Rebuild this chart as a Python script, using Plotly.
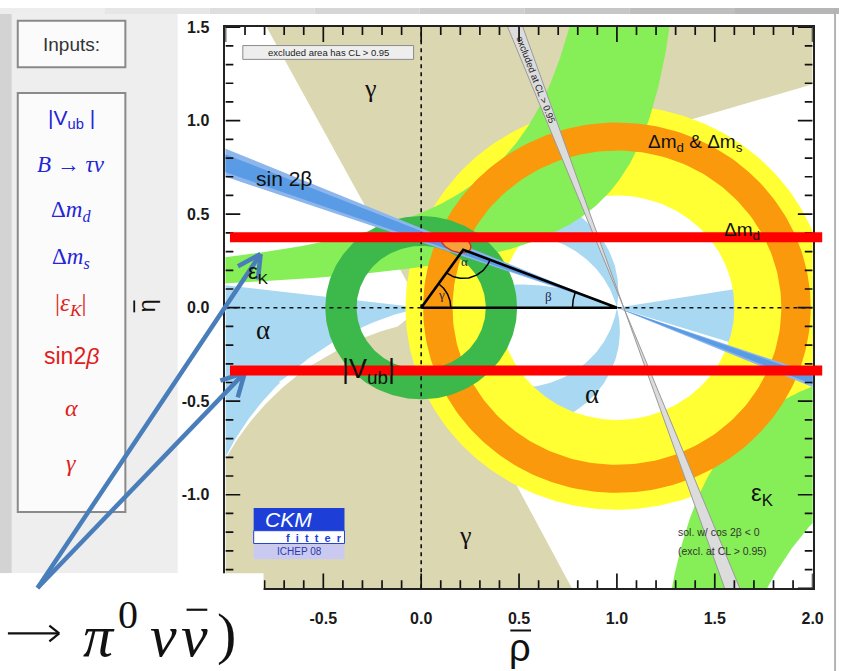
import numpy as np
import plotly.graph_objects as go

W, H = 850, 671

# ---------------- axes ----------------
rho_range = [-1.0, 2.0]
eta_range = [-1.5, 1.5]
x_tick_vals = [-1.0, -0.5, 0.0, 0.5, 1.0, 1.5, 2.0]
x_tick_text = ["", "-0.5", "0.0", "0.5", "1.0", "1.5", "2.0"]      # "-1.0" is hidden on the slide
y_tick_vals = [-1.5, -1.0, -0.5, 0.0, 0.5, 1.0, 1.5]
y_tick_text = ["", "-1.0", "-0.5", "0.0", "0.5", "1.0", "1.5"]     # "-1.5" is hidden on the slide
minor_step = 0.1

# ---------------- constraint regions (rho, eta) ----------------
# gamma (khaki) : upper and lower wedges
gamma_up_rho = [0.0, -0.79, 2.0, 2.0, 1.26]
gamma_up_eta = [0.0, 1.5, 1.5, 1.195, 0.97]
gamma_lo_rho = [0.0, 0.77, -1.0, -1.0]
gamma_lo_eta = [0.0, -1.5, -1.5, -0.81]
gamma_lo_edge_rho = [-1.0, -0.70, -0.12]
gamma_lo_edge_eta = [-0.81, -0.42, -0.10]

# alpha (light blue)
alpha_left_rho = [0.0, -1.0, -1.0]
alpha_left_eta = [0.0, 0.12, -0.80]
alpha_left_edge_rho = [-1.0, -0.71, 0.0]
alpha_left_edge_eta = [-0.80, -0.39, 0.0]
alpha_right_rho = [1.0, 2.0, 2.0]
alpha_right_eta = [0.0, 0.165, -0.32]
alpha_up_bands = [[80.0, 104.0], [152.0, 179.9]]   # inscribed angle ranges, eta > 0
alpha_lo_bands = [[76.0, 99.0]]                    # inscribed angle ranges, eta < 0

# epsilon_K (light green): each edge is eta * (rho0 - rho) = K
epsk_up_edge_rho0 = [1.142, 1.485]
epsk_up_edge_K = [0.578, 0.323]
epsk_lo_rho0 = 1.0
epsk_lo_K = [0.42, 1.15]

# rings
dmd_center = [1.0, 0.0]
dmd_radii = [0.60, 1.08]
dmds_radii = [0.84, 0.99]
vub_center = [0.0, 0.0]
vub_radii = [0.33, 0.49]

# sin 2beta (rays through (1,0)), tan(beta) ranges
sin2b_tan_outer = [0.35, 0.425]
sin2b_tan_inner = [0.362, 0.41]
# cos 2beta < 0 solution (grey band)
cos2b_pivot = 1.035
cos2b_slopes = [-2.91, -2.53]

# unitarity triangle apex and global-fit blob
apex = [0.215, 0.31]
blob_center = [0.178, 0.345]
blob_axes = [0.08, 0.045]

# ---------------- colours ----------------
C_GAMMA = "#dbd7b1"
C_ALPHA = "#a9d9f2"
C_EPSK = "#86ef57"
C_YEL = "#ffff33"
C_ORA = "#fb990c"
C_VUB = "#3db84b"
C_S2B_O = "#8db6ec"
C_S2B_I = "#5a9be6"
C_GREY = "#dcdcdc"

# ---------------- pixel helpers ----------------
PX0, SX = 426.7, 198.3   # rho=0 pixel, pixels per unit
PY0, SY = 303.3, 189.3   # eta=0 pixel, pixels per unit


def xp(px):
    return px / W


def yp(py):
    return 1 - py / H


fig = go.Figure()


def poly(xs, ys, color, line_w=0, line_c=None):
    fig.add_trace(go.Scatter(x=list(xs), y=list(ys), mode="lines", fill="toself",
                             fillcolor=color,
                             line=dict(width=line_w, color=line_c or color),
                             hoverinfo="skip", showlegend=False))


def line(xs, ys, color, width, dash=None):
    fig.add_trace(go.Scatter(x=list(xs), y=list(ys), mode="lines",
                             line=dict(width=width, color=color, dash=dash),
                             hoverinfo="skip", showlegend=False))


def arc3(p1, p2, p3, n=80):
    (x1, y1), (x2, y2), (x3, y3) = p1, p2, p3
    d = 2 * (x1 * (y2 - y3) + x2 * (y3 - y1) + x3 * (y1 - y2))
    ux = ((x1**2 + y1**2) * (y2 - y3) + (x2**2 + y2**2) * (y3 - y1) + (x3**2 + y3**2) * (y1 - y2)) / d
    uy = ((x1**2 + y1**2) * (x3 - x2) + (x2**2 + y2**2) * (x1 - x3) + (x3**2 + y3**2) * (x2 - x1)) / d
    r = np.hypot(x1 - ux, y1 - uy)
    a1 = np.arctan2(y1 - uy, x1 - ux)
    a2 = np.arctan2(y2 - uy, x2 - ux)
    a3 = np.arctan2(y3 - uy, x3 - ux)
    d13 = (a3 - a1) % (2 * np.pi)
    d12 = (a2 - a1) % (2 * np.pi)
    delta = d13 if d12 < d13 else d13 - 2 * np.pi
    a = a1 + np.linspace(0, delta, n)
    return ux + r * np.cos(a), uy + r * np.sin(a)


def alpha_arc(theta_deg, side, n=160):
    t = np.radians(theta_deg)
    cy = 0.5 / np.tan(t)
    r = 0.5 / np.sin(t)
    phib = np.arctan2(-cy, 0.5)
    ph = np.linspace(phib, np.pi - phib, n)
    x = 0.5 + r * np.cos(ph)
    y = cy + r * np.sin(ph)
    if side == "lo":
        y = -y
    return x, y


def ring(c, r1, r2, n=240):
    a = np.linspace(0, 2 * np.pi, n)
    xo = c[0] + r2 * np.cos(a)
    yo = c[1] + r2 * np.sin(a)
    xi = c[0] + r1 * np.cos(a[::-1])
    yi = c[1] + r1 * np.sin(a[::-1])
    return np.concatenate([xo, xi]), np.concatenate([yo, yi])


# ---------------- gamma ----------------
poly(gamma_up_rho, gamma_up_eta, C_GAMMA)
ex, ey = arc3(*zip(gamma_lo_edge_rho, gamma_lo_edge_eta))
gx = list(gamma_lo_rho) + list(ex) + [0.0]
gy = list(gamma_lo_eta) + list(ey) + [0.0]
poly(gx, gy, C_GAMMA)

# ---------------- alpha ----------------
ax_, ay_ = arc3(*zip(alpha_left_edge_rho, alpha_left_edge_eta))
poly(list(alpha_left_rho) + list(ax_), list(alpha_left_eta) + list(ay_), C_ALPHA)
poly(alpha_right_rho, alpha_right_eta, C_ALPHA)
for lo, hi in alpha_up_bands:
    x1, y1 = alpha_arc(lo, "up")
    x2, y2 = alpha_arc(hi, "up")
    poly(np.concatenate([x1, x2[::-1]]), np.concatenate([y1, y2[::-1]]), C_ALPHA)
for lo, hi in alpha_lo_bands:
    x1, y1 = alpha_arc(lo, "lo")
    x2, y2 = alpha_arc(hi, "lo")
    poly(np.concatenate([x1, x2[::-1]]), np.concatenate([y1, y2[::-1]]), C_ALPHA)
# white gap along the alpha / gamma border
wx, wy = arc3((-0.72, -0.405), (-0.40, -0.20), (-0.06, -0.045), 40)
line(wx, wy, "white", 4)

# ---------------- Delta m_d (yellow) ----------------
rx, ry = ring(dmd_center, *dmd_radii)
poly(rx, ry, C_YEL)

# ---------------- epsilon_K ----------------
(r0a, r0b), (ka, kb) = epsk_up_edge_rho0, epsk_up_edge_K
r_a = np.linspace(-1.05, r0a - ka / 1.6, 300)
r_b = np.linspace(-1.05, r0b - kb / 1.6, 300)
poly(np.concatenate([r_a, r_b[::-1]]),
     np.concatenate([ka / (r0a - r_a), (kb / (r0b - r_b))[::-1]]), C_EPSK)
q_lo = np.linspace(epsk_lo_rho0 + epsk_lo_K[0] / 1.6, 2.05, 300)
q_hi = np.linspace(epsk_lo_rho0 + epsk_lo_K[1] / 1.6, 2.05, 300)
poly(np.concatenate([q_lo, q_hi[::-1]]),
     np.concatenate([-epsk_lo_K[0] / (q_lo - epsk_lo_rho0), (-epsk_lo_K[1] / (q_hi - epsk_lo_rho0))[::-1]]),
     C_EPSK)

# ---------------- Delta m_d & Delta m_s (orange) ----------------
rx, ry = ring(dmd_center, *dmds_radii)
poly(rx, ry, C_ORA)

# ---------------- |Vub| ring ----------------
rx, ry = ring(vub_center, *vub_radii)
poly(rx, ry, C_VUB)

# ---------------- sin 2beta ----------------
for tans, col in ((sin2b_tan_outer, C_S2B_O), (sin2b_tan_inner, C_S2B_I)):
    xl, xr = -1.1, 2.1
    poly([xl, xr, xr, xl],
         [tans[0] * (1 - xl), tans[0] * (1 - xr), tans[1] * (1 - xr), tans[1] * (1 - xl)], col)

# ---------------- cos 2beta < 0 (grey band) ----------------
e_t, e_b = 1.6, -1.6
bx = [cos2b_pivot + e_t / cos2b_slopes[0], cos2b_pivot + e_b / cos2b_slopes[0],
      cos2b_pivot + e_b / cos2b_slopes[1], cos2b_pivot + e_t / cos2b_slopes[1]]
by = [e_t, e_b, e_b, e_t]
poly(bx, by, C_GREY)
for s in cos2b_slopes:
    line([cos2b_pivot + e_t / s, cos2b_pivot + e_b / s], [e_t, e_b], "#9a9a9a", 1)

# ---------------- dashed axes ----------------
line(rho_range, [0, 0], "#111111", 1.6, "4px,4px")
line([0, 0], eta_range, "#111111", 1.6, "4px,4px")

# ---------------- global fit blob ----------------
tt = np.linspace(0, 2 * np.pi, 60)
rot = np.radians(-22)
bxx = blob_axes[0] * np.cos(tt)
byy = blob_axes[1] * np.sin(tt)
poly(blob_center[0] + bxx * np.cos(rot) - byy * np.sin(rot),
     blob_center[1] + bxx * np.sin(rot) + byy * np.cos(rot), "#f6a23c", 1.4, "#d4301a")

# ---------------- unitarity triangle ----------------
line([0, 1, apex[0], 0], [0, 0, apex[1], 0], "#000000", 2.6)


def px_arc(c, r_px, a0, a1, n=40):
    a = np.radians(np.linspace(a0, a1, n))
    return c[0] + r_px / SX * np.cos(a), c[1] + r_px / SY * np.sin(a)


ang_apex = np.degrees(np.arctan2(apex[1] * SY, apex[0] * SX))
ang_to_b = np.degrees(np.arctan2(-apex[1] * SY, (1 - apex[0]) * SX))
ang_b_apex = np.degrees(np.arctan2(apex[1] * SY, (apex[0] - 1) * SX))
for c, r, a0, a1 in (((0, 0), 30, 0, ang_apex),
                     (apex, 29, ang_apex - 180, ang_to_b),
                     ((1, 0), 45, ang_b_apex, 180)):
    xx, yy = px_arc(c, r, a0, a1)
    line(xx, yy, "#000000", 1.5)

# ---------------- tick marks drawn as line traces on all four sides ----------------
TK_MAJ, TK_MIN = 15.0, 8.0   # pixels
minor_x = [round(v, 2) for v in np.arange(rho_range[0], rho_range[1] + 1e-9, minor_step)]
minor_y = [round(v, 2) for v in np.arange(eta_range[0], eta_range[1] + 1e-9, minor_step)]
tx, ty = [], []
for v in minor_x:
    L = TK_MAJ if abs(v * 2 - round(v * 2)) < 1e-6 else TK_MIN
    tx += [v, v, None, v, v, None]
    ty += [eta_range[0], eta_range[0] + L / SY, None, eta_range[1], eta_range[1] - L / SY, None]
for v in minor_y:
    L = TK_MAJ if abs(v * 2 - round(v * 2)) < 1e-6 else TK_MIN
    tx += [rho_range[0], rho_range[0] + L / SX, None, rho_range[1], rho_range[1] - L / SX, None]
    ty += [v, v, None, v, v, None]
line(tx, ty, "#111111", 1.7)

# ---------------- layout ----------------
axis_common = dict(ticks="", showline=True, linecolor="#222", linewidth=1.8, mirror=True,
                   showgrid=False, zeroline=False,
                   tickfont=dict(family="Liberation Sans", size=16, color="#1a1a1a", weight="bold"))
fig.update_layout(
    width=W, height=H, autosize=False,
    margin=dict(l=0, r=0, t=0, b=0),
    paper_bgcolor="white", plot_bgcolor="white", showlegend=False,
    xaxis=dict(range=rho_range, domain=[(PX0 - SX) / W, (PX0 + 2 * SX) / W],
               tickmode="array", tickvals=x_tick_vals, ticktext=x_tick_text,
               ticklabelstandoff=15, **axis_common),
    yaxis=dict(range=eta_range, domain=[1 - (PY0 + 1.5 * SY) / H, 1 - (PY0 - 1.5 * SY) / H],
               tickmode="array", tickvals=y_tick_vals, ticktext=y_tick_text,
               ticklabelstandoff=11, **axis_common),
)

shapes = []
ann = []


def rect(x0, y0, x1, y1, fill, line_c=None, lw=0, layer="below"):
    shapes.append(dict(type="rect", xref="paper", yref="paper", x0=xp(x0), x1=xp(x1),
                       y0=yp(y1), y1=yp(y0), fillcolor=fill, layer=layer,
                       line=dict(color=line_c or fill, width=lw)))


def seg(x0, y0, x1, y1, color, w, layer="above"):
    shapes.append(dict(type="line", xref="paper", yref="paper", x0=xp(x0), y0=yp(y0),
                       x1=xp(x1), y1=yp(y1), line=dict(color=color, width=w), layer=layer))


def text(px_, py_, s, size, color="#1a1a1a", family="Liberation Sans", angle=0, xanchor="center"):
    ann.append(dict(xref="paper", yref="paper", x=xp(px_), y=yp(py_), text=s, showarrow=False,
                    font=dict(size=size, color=color, family=family), textangle=angle,
                    xanchor=xanchor, yanchor="middle"))


def dtext(r, e, s, size, color="#1a1a1a", family="Liberation Sans", angle=0):
    ann.append(dict(xref="x", yref="y", x=r, y=e, text=s, showarrow=False,
                    font=dict(size=size, color=color, family=family), textangle=angle,
                    xanchor="center", yanchor="middle"))


# slide background
rect(0, 0, 12, 572, "#d3d3d3")
rect(12, 0, 180, 572, "#eeeeee")
grad = ["#ededed", "#e6e6e6", "#dedede", "#d6d6d6", "#cecece", "#c6c6c6", "#bebebe", "#b6b6b6"]
for i, g in enumerate(grad):
    rect(i * W / len(grad), 0, (i + 1) * W / len(grad), 6, g)
seg(846, 0, 846, 671, "#b4b4b4", 2, layer="below")

# input boxes
rect(18, 13, 127, 60, "#fbfbfb", "#8a8a8a", 2)
rect(18, 86, 127, 510, "#fbfbfb", "#8a8a8a", 2)
text(72, 37, "Inputs:", 19, "#333333")
BLUE = "#2424d8"
RED = "#e01e1e"
text(72, 112, "|V<sub>ub</sub> |", 21, BLUE)
text(72, 158, "<i>B</i> → <i>τν</i>", 23, BLUE, "Liberation Serif")
text(72, 205, "Δ<i>m<sub>d</sub></i>", 23, BLUE, "Liberation Serif")
text(72, 253, "Δ<i>m<sub>s</sub></i>", 23, BLUE, "Liberation Serif")
text(72, 300, "|<i>ε<sub>K</sub></i>|", 25, RED, "Liberation Serif")
text(72, 352, "sin2<i>β</i>", 23, RED, "Liberation Sans")
text(72, 405, "<i>α</i>", 24, RED, "Liberation Serif")
text(72, 460, "<i>γ</i>", 24, RED, "Liberation Serif")

# axis titles (letter + bar drawn as a line)
text(148, 302, "η", 24, "#111111", angle=-90)
seg(136, 296, 136, 308, "#111111", 1.8)
text(527, 648, "ρ", 38, "#111111")
seg(517, 630, 538, 630, "#111111", 2)

# labels inside the plot
dtext(-0.26, 1.17, "γ", 26, "#111", "Liberation Serif")
dtext(0.228, -1.22, "γ", 26, "#111", "Liberation Serif")
dtext(-0.81, -0.12, "α", 27, "#111", "Liberation Serif")
dtext(0.874, -0.46, "α", 27, "#111", "Liberation Serif")
dtext(-0.70, 0.69, "sin 2β", 21, "#111")
dtext(-0.83, 0.185, "ε<sub>K</sub>", 22, "#111")
dtext(1.74, -1.00, "ε<sub>K</sub>", 24, "#111")
dtext(-0.27, -0.34, "|V<sub>ub</sub>|", 27, "#111")
dtext(1.40, 0.878, "Δm<sub>d</sub> & Δm<sub>s</sub>", 19, "#111")
dtext(1.64, 0.41, "Δm<sub>d</sub>", 19, "#111")
dtext(0.102, 0.07, "γ", 13, "#1b2550", "Liberation Serif")
dtext(0.22, 0.245, "α", 13, "#1b2550", "Liberation Serif")
dtext(0.65, 0.06, "β", 13, "#1b2550", "Liberation Serif")
dtext(cos2b_pivot + 1.22 / np.mean(cos2b_slopes), 1.22, "excluded at CL > 0.95", 9.5, "#222",
      angle=np.degrees(np.arctan(-np.mean(cos2b_slopes) * SY / SX)))
ann.append(dict(xref="x", yref="y", x=1.30, y=-1.20, text="sol. w/ cos 2β < 0", showarrow=False,
                xanchor="left", yanchor="middle", font=dict(size=10.5, color="#333", family="Liberation Sans")))
ann.append(dict(xref="x", yref="y", x=1.30, y=-1.30, text="(excl. at CL > 0.95)", showarrow=False,
                xanchor="left", yanchor="middle", font=dict(size=10.5, color="#333", family="Liberation Sans")))

# "excluded area" box
rect(246, 38, 419, 52, "#eeeeee", "#8a8a8a", 1, layer="above")
text(332.5, 45.5, "excluded area has CL > 0.95", 9.5, "#222")

# CKMfitter logo
rect(257, 506, 349, 529, "#1d3fd8", layer="above")
rect(257, 529, 349, 542, "#ffffff", "#1d3fd8", 1, layer="above")
rect(257, 543, 349, 558, "#c9c9f2", layer="above")
text(292, 518, "<i>CKM</i>", 21, "#ffffff")
text(318, 536, "<b>f  i  t  t  e  r</b>", 11, "#1d3fd8")
text(303, 550.5, "ICHEP 08", 10, "#2a3aa8")

# white cover box bottom-left and formula  "-> pi0 nu nubar)"
rect(0, 572, 267, 671, "#ffffff", layer="above")
seg(8, 633, 60, 633, "#111111", 2.2)
seg(60, 633, 50, 625, "#111111", 2.2)
seg(60, 633, 50, 641, "#111111", 2.2)
FS = "Liberation Serif"
text(100, 636, "<i>π</i>", 60, "#111", FS)
text(130, 614, "0", 40, "#111", FS)
text(166, 636, "<i>ν</i>", 60, "#111", FS)
text(197, 636, "<i>ν</i>", 60, "#111", FS)
seg(189, 609, 210, 609, "#111111", 2.2)
text(229, 633, ")", 58, "#111", FS)

# blue arrows
ARW = "#4a7ebb"
for tip in ((264, 249), (248, 369)):
    sx_, sy_ = 38, 587
    seg(sx_, sy_, tip[0], tip[1], ARW, 4.5)
    dx, dy = sx_ - tip[0], sy_ - tip[1]
    L = np.hypot(dx, dy)
    ux, uy = dx / L, dy / L
    for sgn in (1, -1):
        a = np.radians(28 * sgn)
        vx = ux * np.cos(a) - uy * np.sin(a)
        vy = ux * np.sin(a) + uy * np.cos(a)
        seg(tip[0], tip[1], tip[0] + 26 * vx, tip[1] + 26 * vy, ARW, 4.5)

# red lines
seg(233, 232, 833, 232, "#ff0000", 10)
seg(233, 367, 833, 367, "#ff0000", 10)

fig.update_layout(shapes=shapes, annotations=ann)
fig.write_html("out.html")
